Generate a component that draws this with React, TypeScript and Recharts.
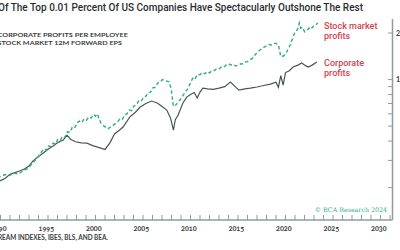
import { LineChart, Line, XAxis, YAxis } from "recharts";

// stock market 12m forward EPS, indexed (log scale)
const stockDates = [
  1989.0, 1990.0, 1990.5, 1991.0, 1991.5, 1992.0, 1992.4, 1992.9, 1993.4, 1993.9,
  1994.4, 1994.9, 1995.3, 1995.55, 1995.8, 1996.05, 1996.3, 1996.55, 1996.8, 1997.05,
  1997.3, 1997.55, 1997.8, 1998.05, 1998.3, 1998.55, 1998.8, 1999.05, 1999.3, 1999.55,
  1999.8, 2000.05, 2000.3, 2000.55, 2000.8, 2001.0, 2001.2, 2001.4, 2001.6, 2001.9,
  2002.3, 2002.8, 2003.3, 2003.55, 2003.8, 2004.05, 2004.3, 2004.55, 2004.8, 2005.05,
  2005.3, 2005.55, 2005.8, 2006.05, 2006.3, 2006.55, 2006.8, 2007.05, 2007.3, 2007.55,
  2007.8, 2008.05, 2008.3, 2008.7, 2008.95, 2009.2, 2009.5, 2009.9, 2010.3, 2010.7,
  2011.1, 2011.3, 2011.5, 2011.75, 2012.0, 2012.25, 2012.5, 2012.75, 2013.0, 2013.25,
  2013.5, 2013.75, 2014.0, 2014.25, 2014.5, 2014.75, 2015.0, 2015.25, 2015.5, 2015.75,
  2016.0, 2016.25, 2016.5, 2016.75, 2017.0, 2017.25, 2017.5, 2017.75, 2018.0, 2018.25,
  2018.5, 2018.75, 2019.0, 2019.25, 2019.5, 2019.75, 2020.0, 2020.25, 2020.5, 2020.8,
  2021.1, 2021.5, 2021.9, 2022.1, 2022.3, 2022.45, 2022.6, 2022.8, 2023.0, 2023.2,
  2023.4, 2023.6, 2023.8, 2024.0, 2024.2, 2024.4,
];
const stockProfits = [
  20.5, 21.8, 23.0, 23.6, 24.3, 24.0, 24.9, 24.5, 25.8, 26.6,
  29.0, 31.2, 34.0, 35.5, 34.8, 37.2, 36.8, 38.8, 38.2, 41.2,
  40.6, 43.0, 42.4, 46.0, 45.4, 49.0, 48.5, 52.5, 53.8, 52.6,
  55.5, 54.5, 57.5, 56.5, 59.5, 58.0, 60.0, 55.0, 52.0, 50.0,
  48.0, 50.5, 53.0, 55.5, 55.0, 59.0, 60.0, 63.5, 63.0, 67.5,
  68.5, 72.5, 72.0, 77.0, 78.0, 82.5, 83.0, 88.5, 89.0, 95.0,
  96.0, 100.0, 98.5, 97.0, 88.0, 67.0, 69.0, 74.0, 80.5, 87.0,
  98.0, 104.0, 102.0, 108.0, 107.5, 111.0, 109.0, 112.5, 110.5, 114.0,
  114.5, 117.5, 117.0, 120.5, 120.0, 124.0, 126.5, 124.0, 125.5, 122.5,
  124.0, 126.0, 126.5, 130.0, 130.5, 134.0, 137.0, 143.0, 150.0, 154.0,
  158.5, 162.0, 165.0, 168.5, 167.5, 171.5, 171.5, 168.0, 141.0, 142.0,
  150.0, 168.0, 196.0, 205.0, 213.0, 232.0, 215.0, 218.0, 204.0, 210.0,
  212.0, 220.0, 216.0, 224.0, 226.0, 232.0,
];

// corporate profits per employee, indexed (log scale)
const corpDates = [
  1989.0, 1990.0, 1990.5, 1991.0, 1991.5, 1992.0, 1992.5, 1993.0, 1993.5, 1994.0,
  1994.4, 1995.0, 1995.5, 1996.0, 1996.5, 1997.0, 1997.6, 1998.0, 1998.4, 1998.9,
  1999.5, 2000.1, 2000.7, 2001.3, 2002.0, 2002.5, 2003.0, 2003.5, 2003.9, 2004.6,
  2005.2, 2005.7, 2006.3, 2006.9, 2007.5, 2008.0, 2008.5, 2008.9, 2009.2, 2009.4,
  2009.7, 2010.2, 2010.6, 2011.0, 2011.4, 2011.7, 2012.0, 2012.3, 2012.8, 2013.4,
  2014.0, 2014.6, 2015.2, 2015.7, 2016.1, 2016.7, 2017.3, 2018.0, 2018.7, 2019.4,
  2020.0, 2020.25, 2020.5, 2020.75, 2021.0, 2021.4, 2021.8, 2022.3, 2022.7, 2023.1,
  2023.4, 2023.8, 2024.3,
];
const corpProfits = [
  20.8, 21.3, 21.7, 22.2, 23.0, 24.4, 25.0, 25.6, 26.4, 27.6,
  29.7, 31.8, 33.5, 35.4, 37.1, 39.0, 40.6, 43.7, 41.0, 39.6,
  39.0, 38.8, 37.4, 36.4, 35.3, 38.8, 44.5, 47.0, 49.3, 57.2,
  61.5, 66.4, 70.0, 72.6, 70.5, 67.0, 63.5, 56.3, 47.1, 55.0,
  59.0, 70.5, 77.0, 80.0, 82.5, 76.0, 83.0, 88.0, 87.0, 86.5,
  88.0, 90.0, 96.3, 90.0, 85.5, 87.0, 88.0, 89.5, 91.5, 93.5,
  96.0, 89.0, 106.0, 92.0, 111.0, 114.0, 120.5, 124.0, 128.0, 123.0,
  120.5, 124.0, 130.0,
];

const yearLabels = [1990, 1995, 2000, 2005, 2010, 2015, 2020, 2025, 2030];
const yearTicks = Array.from({ length: 45 }, (_, i) => 1988 + i);
const valueTicks = [20, 30, 40, 50, 60, 70, 80, 90, 100, 200];
const valueLabels = [100, 200];

const AXIS = "#8c9ca3";
const GREEN = "#2fae7f";
const GREY = "#4b5358";
const RED = "#d2434f";
const INK = "#3a3d40";

const stockRows = stockDates.map((t, i) => ({ t, v: stockProfits[i] }));
const corpRows = corpDates.map((t, i) => ({ t, v: corpProfits[i] }));

function YearTick({ x, y, payload }: any) {
  const yr = payload.value;
  return (
    <g>
      <line x1={x} x2={x} y1={y} y2={y - 5} stroke={AXIS} strokeWidth={1} />
      {yearLabels.includes(yr) && (
        <text
          x={x}
          y={y + 10.5}
          textAnchor="start"
          fontFamily="Lato"
          fontWeight={700}
          fontSize={7.2}
          fill={INK}
          style={{ fontVariantNumeric: "oldstyle-nums" }}
        >
          {yr}
        </text>
      )}
    </g>
  );
}

function ValueTick({ x, y, payload }: any) {
  const v = payload.value;
  return (
    <g>
      <line x1={x - 4.5} x2={x} y1={y} y2={y} stroke={AXIS} strokeWidth={1} />
      {valueLabels.includes(v) && (
        <text
          x={x + 3.5}
          y={y + 2.5}
          fontFamily="Lato"
          fontWeight={700}
          fontSize={7}
          fill={INK}
        >
          {v}
        </text>
      )}
    </g>
  );
}

export default function App() {
  return (
    <div
      style={{
        position: "fixed",
        left: 0,
        top: 0,
        width: 400,
        height: 250,
        overflow: "hidden",
        background: "#fff",
      }}
    >
      <div style={{ position: "absolute", left: -40, top: 0 }}>
        <LineChart width={460} height={250} margin={{ top: 19, right: 7.5, bottom: 10, left: 12 }}>
          <XAxis
            dataKey="t"
            type="number"
            domain={[1988, 2032.26]}
            allowDataOverflow
            ticks={yearTicks}
            interval={0}
            tick={<YearTick />}
            tickLine={false}
            tickSize={0}
            tickMargin={0}
            height={20}
            axisLine={{ stroke: AXIS, strokeWidth: 1.5 }}
          />
          <XAxis
            xAxisId="top"
            orientation="top"
            type="number"
            domain={[1988, 2032.26]}
            tick={false}
            tickLine={false}
            height={0}
            axisLine={{ stroke: AXIS, strokeWidth: 1.2 }}
          />
          <YAxis
            orientation="right"
            scale="log"
            type="number"
            domain={[12.35, 246.4]}
            allowDataOverflow
            ticks={valueTicks}
            interval={0}
            tick={<ValueTick />}
            tickLine={false}
            tickSize={0}
            tickMargin={0}
            width={20}
            axisLine={{ stroke: AXIS, strokeWidth: 1.5 }}
          />
          <Line
            data={corpRows}
            dataKey="v"
            type="linear"
            stroke={GREY}
            strokeWidth={1.2}
            dot={false}
            isAnimationActive={false}
          />
          <Line
            data={stockRows}
            dataKey="v"
            type="linear"
            stroke={GREEN}
            strokeWidth={1.4}
            strokeDasharray="3.5 2.5"
            dot={false}
            isAnimationActive={false}
          />
        </LineChart>
      </div>

      <svg
        width={400}
        height={250}
        style={{ position: "absolute", left: 0, top: 0, pointerEvents: "none" }}
      >
        <text
          x={-2}
          y={11}
          fontFamily="Roboto"
          fontWeight={500}
          fontSize={10.5}
          fill="#2a2d30"
          textLength={365}
          lengthAdjust="spacingAndGlyphs"
        >
          Of The Top 0.01 Percent Of US Companies Have Spectacularly Outshone The Rest
        </text>

        <text x={-2.5} y={37} fontFamily="Lato" fontWeight={700} fontSize={6.3} fill={INK} textLength={130.5} lengthAdjust="spacingAndGlyphs">
          CORPORATE PROFITS PER EMPLOYEE
        </text>
        <text x={-2.5} y={45} fontFamily="Lato" fontWeight={700} fontSize={6.3} fill={INK} textLength={124.5} lengthAdjust="spacingAndGlyphs">
          STOCK MARKET 12M FORWARD EPS
        </text>

        <g fontFamily="Roboto" fontWeight={500} fontSize={9} fill={RED}>
          <text x={324} y={29.3}>Stock market</text>
          <text x={324} y={38.8}>profits</text>
          <text x={324} y={66.3}>Corporate</text>
          <text x={324} y={75.8}>profits</text>
        </g>

        <text x={387} y={212} textAnchor="end" fontFamily="DejaVu Serif" fontSize={6.3} fill={GREEN}>
          © BCA Research 2024
        </text>

        <text x={-26} y={240} fontFamily="Lato" fontWeight={700} fontSize={6.5} fill={INK} textLength={134} lengthAdjust="spacingAndGlyphs">
          DATASTREAM INDEXES, IBES, BLS, AND BEA.
        </text>
      </svg>
    </div>
  );
}
